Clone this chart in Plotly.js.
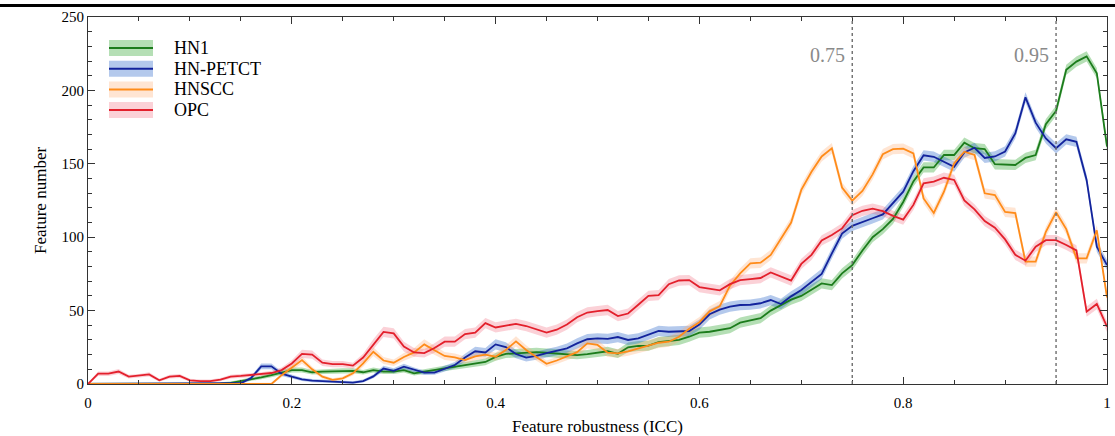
<!DOCTYPE html>
<html>
<head>
<meta charset="utf-8">
<script src="https://cdn.plot.ly/plotly-3.0.1.min.js"></script>
<style>
  html, body { margin: 0; padding: 0; background: #fff; }
  #chart { width: 1115px; height: 436px; }
</style>
</head>
<body>
<div id="chart"></div>
<script>
// ---- Data ----
const seriesNames = ["HN1", "HN-PETCT", "HNSCC", "OPC"];

// ICC bins 0.00 ... 1.00 (step 0.01)
const icc = Array.from({length: 101}, (_, i) => +(i / 100).toFixed(2));

const hn1 = [
  0, 0, 0, 0, 0, 0, 0, 0, 0, 0,
  0, 0, 0, 0.3, 0.8, 2, 3, 4.5, 6, 8,
  9.5, 9.5, 8, 8.4, 8.6, 9, 9, 8, 9.5, 8.4,
  8.4, 9.5, 7.3, 8.4, 9.5, 11, 12, 13, 14, 15,
  18.5, 20.5, 20.9, 21.3, 21.7, 21.3, 20.9, 20, 19.7, 20.4,
  21.3, 22.3, 20.6, 25, 25.9, 26.1, 28.6, 29.3, 30, 32.2,
  35, 35.6, 37, 38, 41.8, 43.1, 44.8, 50, 54, 57.5,
  60, 64.5, 68.5, 67.4, 75.4, 81, 91, 100, 105.5, 112.5,
  124, 138, 147.5, 147.5, 156, 156, 164.4, 160.6, 160, 149.7,
  149.2, 149.2, 154, 156, 177, 186, 214, 219.6, 223.2, 211.7,
  161.7
];

const hnPetct = [
  0, 0, 0, 0, 0, 0, 0, 0, 0, 0,
  0, 0, 0, 0, 0, 0.5, 4, 12, 12, 7,
  5, 3.2, 2.3, 2, 1.6, 1, 1, 2, 5.2, 10.5,
  9, 11.8, 9.5, 7.7, 7.8, 10.5, 12.9, 18, 22.3, 21.5,
  27, 25.2, 20.4, 18, 19.2, 21, 22.4, 24.3, 27.7, 30.5,
  31.1, 30.7, 32, 30, 31.1, 33.4, 36.2, 35.6, 36.1, 36.1,
  40.5, 47.5, 50.6, 52.7, 53.8, 54, 55, 57.2, 54.5, 59.7,
  64, 69.3, 75, 89, 102.5, 107.7, 110.5, 112.9, 115.5, 123.5,
  131, 145, 155.8, 154.8, 151.4, 148, 157.7, 160.9, 154, 155,
  158.4, 170.7, 195.3, 178, 167.3, 160.6, 166.7, 165, 139, 93.5,
  81
];

const hnscc = [
  0, 0, 0, 0, 0, 0, 0, 0, 0, 0,
  0, 0, 0, 0, 0, 0, 0, 0, 0, 6,
  11, 16.3, 10, 5, 2.8, 3.9, 7.3, 14, 22, 16,
  14.5, 18.4, 21.5, 27, 23, 19.1, 18.2, 16.3, 18.8, 20,
  18.6, 23.2, 29, 23.2, 18.4, 13.8, 16, 18.8, 21.7, 27.7,
  26.6, 21.3, 20.9, 22.3, 24.3, 26.6, 28.1, 28.8, 32.2, 37.6,
  42.1, 49.5, 53, 67, 75.4, 82.2, 82.6, 87.9, 98.6, 110,
  132.2, 144.6, 155, 160.6, 133.8, 124.9, 131.5, 142.8, 156.5, 160,
  160.3, 157.1, 126.4, 116.5, 131, 150.3, 158.2, 156, 129.9, 128.7,
  117.2, 116.5, 83.3, 83.3, 103.7, 117, 105.5, 85.6, 85.6, 104.7,
  59
];

const opc = [
  0, 7, 7, 8.5, 5, 5.5, 6.5, 2.5, 5, 5.5,
  2.5, 2, 2, 3, 5, 5.5, 6, 6.5, 7.5, 9.5,
  14, 20.5, 20, 14.5, 13.5, 13.5, 12.5, 18, 27, 35.5,
  34.5, 25.5, 21.5, 21, 24.5, 28.8, 28.8, 34, 35, 41.5,
  38.5, 40, 41, 39.5, 37.3, 35, 37, 40.5, 45.5, 48.7,
  49.7, 50.4, 46.3, 48, 54, 60, 60.5, 68, 70.5, 70.8,
  66, 64.7, 63.8, 68, 70.8, 71.5, 72.2, 76, 73, 70.5,
  81.8, 88, 97.8, 101.5, 106, 115, 118, 119.5, 117.8, 114.5,
  112, 122, 136.7, 137.8, 140.5, 139, 125, 119, 111, 106.5,
  98.5, 88, 84, 93.5, 98, 98, 94.7, 91, 49.3, 54.5,
  39
];

const thresholds = [0.75, 0.95];
const thresholdLabels = ["0.75", "0.95"];

// ---- Styles ----
const lineColors = ["#1c7c1c", "#13239c", "#ff8c1a", "#e3202c"];
const bandColors = ["rgba(60,170,60,0.38)", "rgba(40,100,200,0.35)",
                    "rgba(255,170,110,0.30)", "rgba(240,90,110,0.28)"];
const allSeries = [hn1, hnPetct, hnscc, opc];
const FONT = "Liberation Serif, Times New Roman, serif";

// plot-area geometry in pixels (for paper-coordinate helpers)
const L = 88, R = 8, T = 17, B = 52, W = 1115, H = 436;
const PW = W - L - R, PH = H - T - B;
const px = x => (x - L) / PW;
const py = y => (H - B - y) / PH;

const traces = [];
// confidence bands
allSeries.forEach((vals, k) => {
  const half = vals.map(v => Math.min(3.5, 0.8 + 0.1 * v));
  traces.push({
    x: icc, y: vals.map((v, i) => v - half[i]), type: "scatter", mode: "lines",
    line: {width: 0, color: bandColors[k]}, hoverinfo: "skip", showlegend: false
  });
  traces.push({
    x: icc, y: vals.map((v, i) => v + half[i]), type: "scatter", mode: "lines",
    fill: "tonexty", fillcolor: bandColors[k],
    line: {width: 0, color: bandColors[k]}, hoverinfo: "skip", showlegend: false
  });
});
// lines
allSeries.forEach((vals, k) => {
  traces.push({
    x: icc, y: vals, type: "scatter", mode: "lines", name: seriesNames[k],
    line: {color: lineColors[k], width: 1.8}, showlegend: false
  });
});

const shapes = [];
const annotations = [];

// top black rule
shapes.push({type: "line", xref: "paper", yref: "paper",
  x0: px(0), x1: px(W), y0: py(5.5), y1: py(5.5),
  line: {color: "#000", width: 3}});

// threshold dashed lines + labels
thresholds.forEach((t, i) => {
  shapes.push({type: "line", xref: "x", yref: "y", x0: t, x1: t, y0: 0, y1: 250,
    line: {color: "#6e6e6e", width: 1.4, dash: "dot"}});
  annotations.push({x: t, y: 224, xref: "x", yref: "y", text: thresholdLabels[i],
    showarrow: false, xanchor: "right", yanchor: "middle", xshift: -5,
    font: {family: FONT, size: 20, color: "#8a8a8a"}});
});

// custom legend (band swatch with centred line)
const legendRows = [48, 68.7, 89.5, 110];
seriesNames.forEach((name, k) => {
  const yc = legendRows[k];
  shapes.push({type: "rect", xref: "paper", yref: "paper",
    x0: px(109), x1: px(153), y0: py(yc - 8), y1: py(yc + 8),
    fillcolor: bandColors[k], line: {width: 0}});
  shapes.push({type: "line", xref: "paper", yref: "paper",
    x0: px(109), x1: px(153), y0: py(yc), y1: py(yc),
    line: {color: lineColors[k], width: 2}});
  annotations.push({xref: "paper", yref: "paper", x: px(172), y: py(yc),
    text: name, showarrow: false, xanchor: "left", yanchor: "middle",
    font: {family: FONT, size: 18, color: "#000"}});
});

const axisCommon = {
  showgrid: false, zeroline: false, showline: true, linecolor: "#333", linewidth: 1,
  mirror: "allticks", ticks: "inside", tickcolor: "#333", ticklen: 7, tickwidth: 1,
  tickfont: {family: FONT, size: 15, color: "#000"}
};

const layout = {
  width: W, height: H,
  margin: {l: L, r: R, t: T, b: B, pad: 0},
  paper_bgcolor: "#fff", plot_bgcolor: "#fff",
  showlegend: false,
  xaxis: Object.assign({}, axisCommon, {
    range: [0, 1], dtick: 0.2, tick0: 0,
    tickformat: "~g",
    ticklabelstandoff: 5,
    minor: {dtick: 0.05, ticks: "inside", ticklen: 4, tickcolor: "#333", showgrid: false},
    title: {text: "Feature robustness (ICC)", font: {family: FONT, size: 17, color: "#000"}, standoff: 10}
  }),
  yaxis: Object.assign({}, axisCommon, {
    range: [0, 250], dtick: 50, tick0: 0,
    minor: {dtick: 10, ticks: "inside", ticklen: 4, tickcolor: "#333", showgrid: false},
    title: {text: "Feature number", font: {family: FONT, size: 17, color: "#000"}, standoff: 10}
  }),
  shapes: shapes,
  annotations: annotations
};

Plotly.newPlot("chart", traces, layout, {displayModeBar: false, staticPlot: true});
</script>
</body>
</html>
